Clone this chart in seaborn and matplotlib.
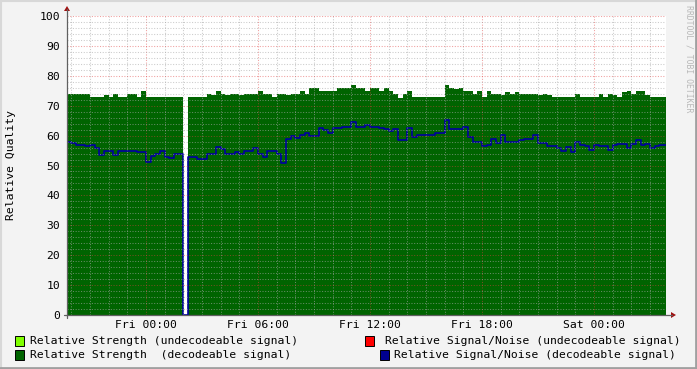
import numpy as np
import pandas as pd
import matplotlib
matplotlib.use("Agg")
import matplotlib.pyplot as plt
import seaborn as sns
from matplotlib.patches import Rectangle, Polygon
from matplotlib.lines import Line2D

# ---------------- data (hours relative to Fri 00:00, 15-minute samples) ----------------
start_hour = -4.25
step_hours = 0.25

strength = [74, 74, 74, 74, 74, 73, 73, 73, 73.5, 73,
            74, 73, 73, 74, 74, 73, 75, 73, 73, 73,
            73, 73, 73, 73, 73, np.nan, 73, 73, 73, 73,
            74, 73.5, 75, 74, 73.5, 74, 74, 73.5, 74, 74,
            74, 75, 74, 74, 73, 74, 74, 73.5, 74, 74,
            75, 74, 76, 76, 75, 75, 75, 75, 76, 76,
            76, 77, 76, 76, 75, 76, 76, 75, 76, 75,
            74, 72.5, 74, 75, 73, 73, 73, 73, 73, 73,
            73, 77, 76, 75.5, 76, 75, 75, 74, 75, 73,
            75, 74, 74, 73.5, 74.5, 74, 74.5, 74, 74, 74,
            74, 73.5, 74, 73.5, 73, 73, 73, 73, 73, 74,
            73, 73, 73, 73, 74, 73, 74, 73.5, 73, 74.5,
            75, 74, 75, 75, 73.5, 73, 73, 73, 73]

snr = [58, 57.5, 57, 57, 56.5, 57, 56, 53.5, 55, 55,
       53.5, 55, 55, 55, 55, 54.5, 54.5, 51.3, 53.2, 53.8,
       55, 53, 52.5, 54, 54, 0, 53, 53, 52.2, 52.2,
       54, 54, 56.3, 55.5, 54, 54, 54.5, 54, 55, 55,
       56, 54, 53, 55, 55, 54, 51, 59, 60, 59.2,
       60.2, 61, 60, 60, 62.7, 62, 61, 62.5, 62.5, 63,
       63, 64.6, 63, 63, 63.5, 63, 63, 62.5, 62.3, 61.5,
       62.3, 58.5, 58.5, 62.5, 59.5, 60.2, 60.2, 60.2, 60.2, 61,
       61, 65.2, 62.3, 62.3, 62.3, 63, 59.6, 58, 58, 56.5,
       57, 59, 57.6, 60.2, 58, 58, 58, 58.5, 59, 59,
       60.2, 57.6, 57.6, 56.5, 56.5, 56, 55, 56.3, 54.6, 58,
       57, 56.5, 55.3, 57, 56.5, 56.5, 55.3, 57, 57.2, 57.2,
       56, 57.2, 58.5, 57, 57.2, 56, 56.5, 57, 57]

x_tick_hours = [0, 6, 12, 18, 24]
x_tick_labels = ["Fri 00:00", "Fri 06:00", "Fri 12:00", "Fri 18:00", "Sat 00:00"]
y_tick_values = [0, 10, 20, 30, 40, 50, 60, 70, 80, 90, 100]
y_label = "Relative Quality"
watermark = "RRDTOOL / TOBI OETIKER"

legend_labels = ["Relative Strength (undecodeable signal)",
                 "Relative Signal/Noise (undecodeable signal)",
                 "Relative Strength  (decodeable signal)",
                 "Relative Signal/Noise (decodeable signal)"]
legend_colors = ["#80ff00", "#ff0000", "#006400", "#000090"]

# ---------------- figure ----------------
W, H = 697, 369
FS = 8.2
sns.set_theme(style="white")
plt.rcParams["font.family"] = ["DejaVu Sans Mono", "DejaVu Sans"]
BG = "#f3f3f3"
fig = plt.figure(figsize=(W / 100, H / 100), dpi=100, facecolor=BG)

def fx(px):
    return px / W

def fy(py):
    return 1 - py / H

L, R, T, B = 67, 666, 16, 315
ax = fig.add_axes([fx(L), fy(B), (R - L) / W, (B - T) / H])
ax.set_facecolor("white")

xmin = (L - 146) / (112 / 6)
xmax = (R - 146) / (112 / 6)

n = len(strength)
t = start_hour + step_hours * np.arange(n)
t_ext = np.append(t, xmax)
strength_ext = np.append(np.array(strength, dtype=float), strength[-1])
snr_ext = np.append(np.array(snr, dtype=float), snr[-1])

ax.fill_between(t_ext, np.nan_to_num(strength_ext), step="post",
                color="#006400", lw=0, zorder=1)

df = pd.DataFrame({"t": t_ext, "snr": snr_ext})
sns.lineplot(data=df, x="t", y="snr", ax=ax, drawstyle="steps-post",
             color="#0000a0", lw=1.2, estimator=None, sort=False, zorder=2)

ax.set_xlim(xmin, xmax)
ax.set_ylim(0, 100)

ax.set_xticks(x_tick_hours)
ax.set_xticklabels(x_tick_labels)
ax.set_xticks(np.arange(-4, 28, 1), minor=True)
ax.set_yticks(y_tick_values)
ax.set_yticklabels([str(v) for v in y_tick_values])
ax.set_yticks(np.arange(0, 101, 2), minor=True)

dots = (0, (1, 1.6))
ax.grid(which="minor", color="#a8a8a8", alpha=0.6, lw=0.75, ls=dots, zorder=3)
ax.grid(which="major", color="#e04040", alpha=0.5, lw=0.75, ls=dots, zorder=3)
ax.set_axisbelow(False)

ax.tick_params(axis="both", which="major", labelsize=FS, colors="#000000",
               length=3, width=0.8, direction="out")
ax.tick_params(axis="x", which="major", color="#808080", pad=0.5)
ax.tick_params(axis="y", which="major", color="#808080", pad=2)
ax.tick_params(axis="both", which="minor", length=2, width=0.8,
               color="#e06060", direction="out")
for lab in ax.get_xticklabels() + ax.get_yticklabels():
    lab.set_color("#000000")
ax.set_xlabel("")
ax.set_ylabel("")
for s in ax.spines.values():
    s.set_visible(False)

# axis lines with arrows
fig.add_artist(Line2D([fx(L), fx(L)], [fy(B + 3), fy(9)], color="#606060", lw=0.9))
fig.add_artist(Line2D([fx(L - 3), fx(672)], [fy(B), fy(B)], color="#606060", lw=0.9))
fig.add_artist(Polygon([[fx(L - 3), fy(11)], [fx(L + 3), fy(11)], [fx(L), fy(6)]],
                       closed=True, color="#a01010", lw=0))
fig.add_artist(Polygon([[fx(671), fy(B - 3)], [fx(671), fy(B + 3)], [fx(676), fy(B)]],
                       closed=True, color="#a01010", lw=0))

# y label
fig.text(fx(11), fy(165), y_label, rotation=90, ha="center", va="center",
         fontsize=FS, color="#000000")

# watermark
fig.text(fx(689), fy(5), watermark, rotation=270, ha="center", va="top",
         fontsize=5.9, color="#b8b8b8")

# legend
legend_pos = [(15, 30, 341), (365, 385, 341), (15, 30, 355), (380, 394, 355)]
for (bx, tx, cy), lab, col in zip(legend_pos, legend_labels, legend_colors):
    fig.add_artist(Rectangle((fx(bx), fy(cy + 5)), 9 / W, 10 / H,
                             facecolor=col, edgecolor="#000000", lw=0.7))
    fig.text(fx(tx), fy(cy), lab, ha="left", va="center", fontsize=FS,
             color="#000000")

# frame
fig.add_artist(Line2D([0, 1], [fy(0.5), fy(0.5)], color="#d8d8d8", lw=1.5))
fig.add_artist(Line2D([fx(0.5), fx(0.5)], [0, 1], color="#d8d8d8", lw=1.5))
fig.add_artist(Line2D([0, 1], [fy(368), fy(368)], color="#a0a0a0", lw=2))
fig.add_artist(Line2D([fx(696), fx(696)], [0, 1], color="#a0a0a0", lw=2))

fig.savefig("out.png", dpi=100, facecolor=BG)
